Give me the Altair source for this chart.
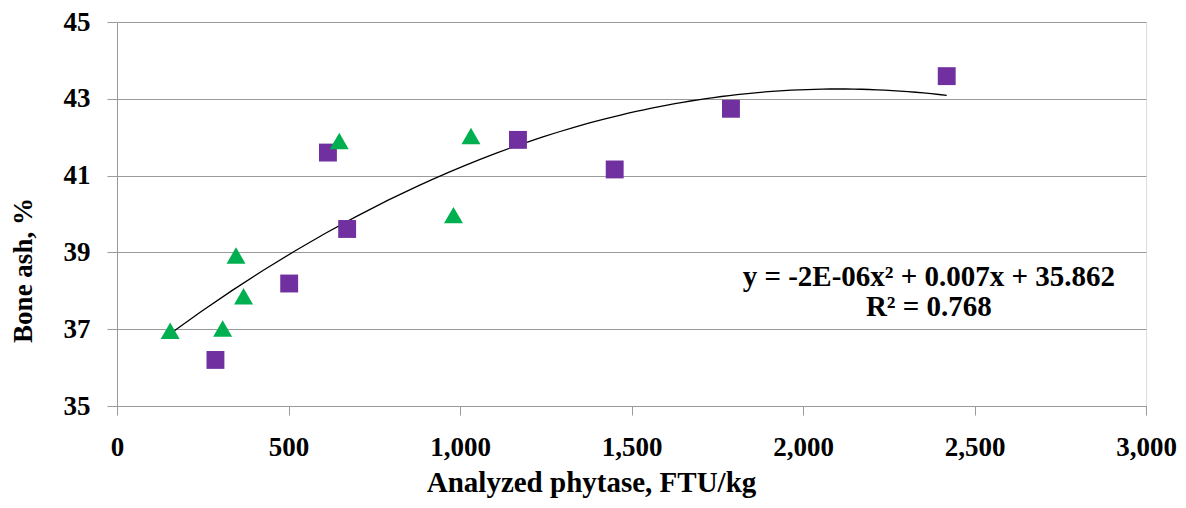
import altair as alt
import pandas as pd

# Series
sq_x = [287, 502, 615, 671, 1169, 1451, 1790, 2419]
sq_y = [36.20, 38.19, 41.60, 39.61, 41.93, 41.16, 42.74, 43.59]
tri_x = [155, 308, 347, 369, 648, 981, 1032]
tri_y = [36.96, 37.02, 38.92, 37.86, 41.90, 39.97, 42.03]

x_ticks = [0, 500, 1000, 1500, 2000, 2500, 3000]
y_ticks = [35, 37, 39, 41, 43, 45]

eq_lines = ["y = -2E-06x\u00b2 + 0.007x + 35.862", "R\u00b2 = 0.768"]
eq_x = [2367, 2367]
eq_y = [38.12, 37.35]

FONT = "Liberation Serif"
GRID = "#9a9a9a"

sq = pd.DataFrame({"x": sq_x, "y": sq_y, "s": "square"})
tri = pd.DataFrame({"x": tri_x, "y": tri_y, "s": "triangle"})
alld = pd.concat([sq, tri], ignore_index=True)
ann = pd.DataFrame({"x": eq_x, "y": eq_y, "t": eq_lines})

xs = alt.Scale(domain=[0, 3000], nice=False, zero=False)
ys = alt.Scale(domain=[35, 45], nice=False, zero=False)

xax = alt.Axis(values=x_ticks, format=",.0f", title="Analyzed phytase, FTU/kg",
               grid=False, domainColor=GRID, tickColor=GRID, tickSize=9,
               labelFont=FONT, labelFontSize=27, labelFontWeight="bold",
               labelColor="black", labelPadding=19, labelFlush=False,
               labelOverlap=False,
               titleFont=FONT, titleFontSize=29, titleFontWeight="bold",
               titleColor="black", titleX=474, titleY=85,
               titleBaseline="alphabetic", titleAnchor="start", titleAlign="center")
yax = alt.Axis(values=y_ticks, format="d", title="Bone ash, %",
               grid=True, gridColor=GRID, domainColor=GRID, tickColor=GRID,
               tickSize=10, labelFont=FONT, labelFontSize=27,
               labelFontWeight="bold", labelColor="black", labelPadding=17,
               labelFlush=False, labelOverlap=False,
               titleFont=FONT, titleFontSize=27, titleFontWeight="bold",
               titleColor="black", titleAngle=270, titleX=-94, titleY=248,
               titleBaseline="middle", titleAlign="center")

base_enc = dict(x=alt.X("x:Q", scale=xs, axis=xax),
                y=alt.Y("y:Q", scale=ys, axis=yax))

fit = alt.Chart(alld).transform_regression(
    "x", "y", method="poly", order=2
).mark_line(color="black", strokeWidth=1.3).encode(**base_enc)

squares = alt.Chart(sq).mark_point(shape="square", filled=True, size=320,
                                   color="#7030A0", opacity=1).encode(**base_enc)
triangles = alt.Chart(tri).mark_point(shape="triangle-up", filled=True, size=360,
                                      color="#00B050", opacity=1).encode(**base_enc)

text = alt.Chart(ann).mark_text(font=FONT, fontSize=29, fontWeight="bold",
                                color="black", align="center",
                                baseline="alphabetic").encode(
    x=alt.X("x:Q", scale=xs), y=alt.Y("y:Q", scale=ys), text="t:N")

chart = alt.layer(fit, squares, triangles, text).properties(
    width=1029, height=384,
    autosize=alt.AutoSizeParams(type="none"),
    padding={"left": 109, "top": 14, "right": 32, "bottom": 92},
).configure_view(stroke=None).configure(background="white")

chart.save("out.html", embed_options={"renderer": "svg", "actions": False})
